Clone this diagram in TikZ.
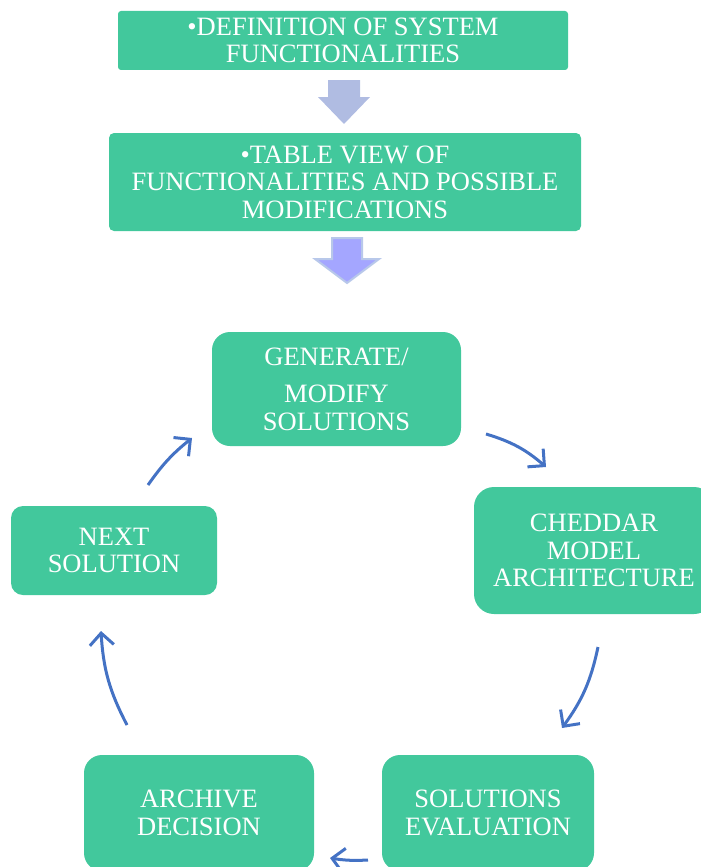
\documentclass[tikz,border=0pt]{standalone}
\usepackage{fontspec}
\setmainfont{Liberation Serif}
\usetikzlibrary{arrows.meta}
\definecolor{boxgreen}{HTML}{42C89C}
\definecolor{arrowblue}{HTML}{4472C4}
\definecolor{blockA}{HTML}{B0BCE2}
\definecolor{blockB}{HTML}{A4A6FF}
\definecolor{blockBedge}{HTML}{B8C8EA}
\tikzset{
  gbox/.style={fill=boxgreen, draw=none, text=white, align=center,
    font=\fontsize{26.5}{27.5}\selectfont, inner sep=0pt},
  cyc/.style={draw=arrowblue, line width=3pt,
    -{Straight Barb[length=12pt,width=24pt,line width=3pt]}}
}
\begin{document}
\begin{tikzpicture}[x=1pt,y=-1pt]
\useasboundingbox (0,0) rectangle (701,867);
\clip (0,0) rectangle (701,867);
% top boxes
\node[gbox, rounded corners=3pt, minimum width=450pt, minimum height=59pt] (def) at (343,40.5)
  {•DEFINITION OF SYSTEM\\FUNCTIONALITIES};
\node[gbox, rounded corners=5pt, minimum width=472pt, minimum height=98pt] (tab) at (345,182)
  {•TABLE VIEW OF\\FUNCTIONALITIES AND POSSIBLE\\MODIFICATIONS};
% block arrows
\coordinate (b1) at (344,80);
\fill[blockA] (328,80) -- (360,80) -- (360,97) -- (370,97) -- (344,124) -- (318,97) -- (328,97) -- cycle;
\coordinate (b2) at (347,237);
\filldraw[fill=blockB, draw=blockBedge, line width=2pt] (332,238) -- (362,238) -- (362,259) -- (379,259) -- (347,283) -- (315,259) -- (332,259) -- cycle;
% cycle boxes
\node[gbox, rounded corners=18pt, minimum width=249pt, minimum height=114pt] (gen) at (336.5,389)
  {GENERATE/\\[10pt]MODIFY\\SOLUTIONS};
\node[gbox, rounded corners=20pt, minimum width=240pt, minimum height=127pt] (ched) at (594,550.5)
  {CHEDDAR\\MODEL\\ARCHITECTURE};
\node[gbox, rounded corners=18pt, minimum width=212pt, minimum height=116pt] (eval) at (488,813)
  {SOLUTIONS\\EVALUATION};
\node[gbox, rounded corners=18pt, minimum width=230pt, minimum height=116pt] (arch) at (199,813)
  {ARCHIVE\\DECISION};
\node[gbox, rounded corners=12pt, minimum width=206pt, minimum height=89pt] (next) at (114,550.5)
  {NEXT\\SOLUTION};
% cycle arrows
\coordinate (a1s) at (486,434); \coordinate (a1e) at (546,467);
\coordinate (a2s) at (598,647); \coordinate (a2e) at (562,728);
\coordinate (a3s) at (368,860); \coordinate (a3e) at (330,858);
\coordinate (a4s) at (127,725); \coordinate (a4e) at (101,631);
\coordinate (a5s) at (148,485); \coordinate (a5e) at (192,438);
\draw[cyc] (a1s) to[bend left=12] (a1e);
\draw[cyc] (a2s) to[bend left=12] (a2e);
\draw[cyc] (a3s) to[bend left=6] (a3e);
\draw[cyc] (a4s) to[bend left=12] (a4e);
\draw[cyc] (a5s) to[bend left=8] (a5e);
\end{tikzpicture}
\end{document}
